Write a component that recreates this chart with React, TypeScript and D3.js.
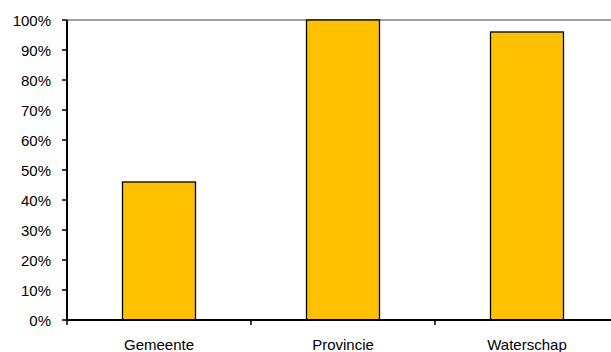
import React from "react";
import * as d3 from "d3";

const categories = ["Gemeente", "Provincie", "Waterschap"];
const values = [0.46, 1.0, 0.96];
const yTicks = [0, 0.1, 0.2, 0.3, 0.4, 0.5, 0.6, 0.7, 0.8, 0.9, 1.0];

export default function App() {
  const W = 611, H = 352;
  const left = 67, top = 20, bottom = 320;
  const step = 184;
  const x = d3.scaleBand<string>().domain(categories).range([left, left + step * categories.length]).paddingInner(0).paddingOuter(0);
  const y = d3.scaleLinear().domain([0, 1]).range([bottom, top]);
  const barW = 73;
  const fmt = d3.format(".0%");
  const font = "Liberation Sans, Arial, sans-serif";
  return (
    <svg width={W} height={H} style={{ position: "absolute", left: 0, top: 0 }}>
      <rect width={W} height={H} fill="#fff" />
      <line x1={left} x2={W} y1={top} y2={top} stroke="#808080" strokeWidth={1.5} />
      {categories.map((c, i) => {
        const cx = (x(c) as number) + x.bandwidth() / 2;
        return (
          <rect key={c} x={cx - barW / 2} y={y(values[i])} width={barW} height={bottom - y(values[i])}
            fill="#FFC000" stroke="#000" strokeWidth={1.3} />
        );
      })}
      {yTicks.map((t) => (
        <g key={t}>
          <line x1={left - 5} x2={left} y1={y(t)} y2={y(t)} stroke="#000" strokeWidth={1.5} />
          <text x={51} y={y(t) + 5.5} textAnchor="end" fontFamily={font} fontSize={15} fill="#000">{fmt(t)}</text>
        </g>
      ))}
      {categories.map((c, i) => (
        <line key={"t" + c} x1={left + step * i} x2={left + step * i} y1={bottom} y2={bottom + 5} stroke="#000" strokeWidth={1.5} />
      ))}
      <line x1={left} x2={left} y1={top} y2={bottom + 1} stroke="#000" strokeWidth={2} />
      <line x1={left - 1} x2={W} y1={bottom} y2={bottom} stroke="#000" strokeWidth={2} />
      {categories.map((c) => (
        <text key={"l" + c} x={(x(c) as number) + x.bandwidth() / 2} y={350} textAnchor="middle" fontFamily={font} fontSize={15} fill="#000">{c}</text>
      ))}
    </svg>
  );
}
